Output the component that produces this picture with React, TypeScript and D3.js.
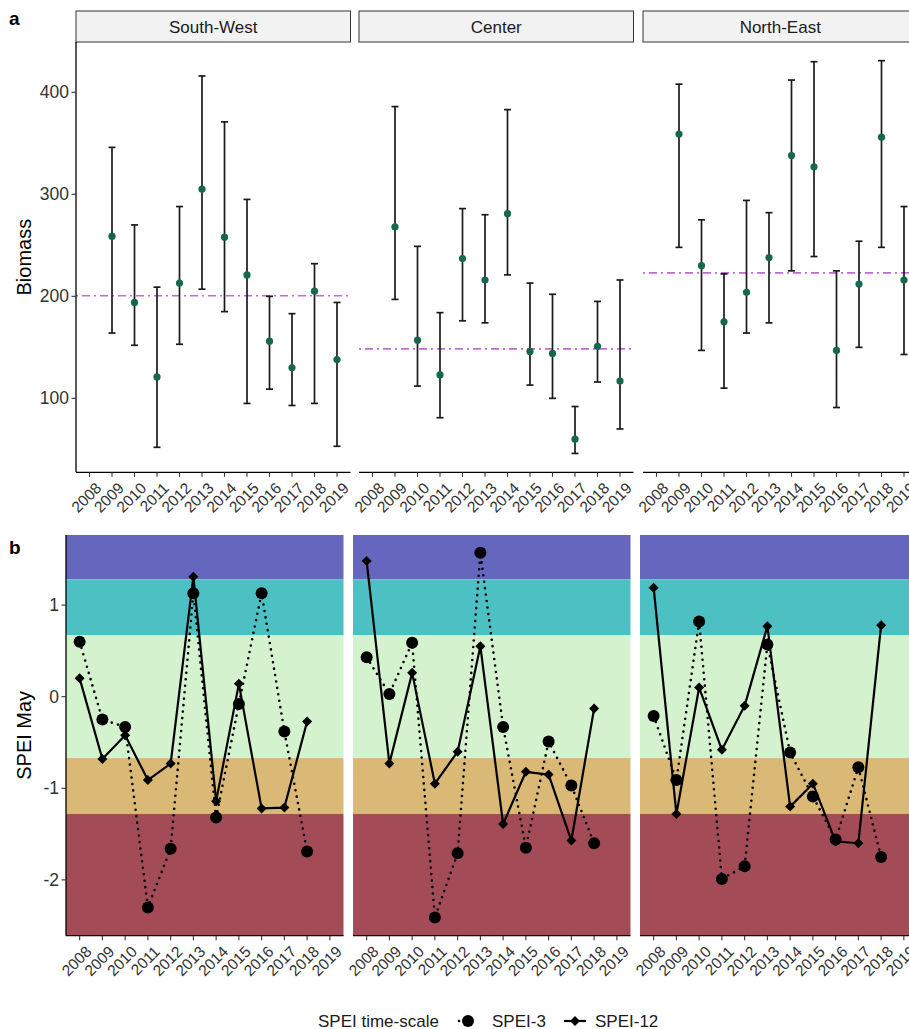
import React from "react";
import * as d3 from "d3";

const years = ["2008","2009","2010","2011","2012","2013","2014","2015","2016","2017","2018","2019"];
const regions = ["South-West", "Center", "North-East"];

// Panel a: biomass mean and error bars (null = no data)
const swBiomass = [null, 259, 194, 121, 213, 305, 258, 221, 156, 130, 205, 138];
const swLow = [null, 164, 152, 52, 153, 207, 185, 95, 109, 93, 95, 53];
const swHigh = [null, 346, 270, 209, 288, 416, 371, 295, 200, 183, 232, 194];
const ceBiomass = [null, 268, 157, 123, 237, 216, 281, 146, 144, 60, 151, 117];
const ceLow = [null, 197, 112, 81, 176, 174, 221, 113, 100, 46, 116, 70];
const ceHigh = [null, 386, 249, 184, 286, 280, 383, 213, 202, 92, 195, 216];
const neBiomass = [null, 359, 230, 175, 204, 238, 338, 327, 147, 212, 356, 216];
const neLow = [null, 248, 147, 110, 164, 174, 225, 239, 91, 150, 248, 143];
const neHigh = [null, 408, 275, 222, 294, 282, 412, 430, 225, 254, 431, 288];
const meanBiomass = [200.5, 148.5, 223];
const biomassTicks = [100, 200, 300, 400];

// Panel b: SPEI values in May
const swSpei3 = [0.60, -0.25, -0.33, -2.30, -1.66, 1.13, -1.32, -0.08, 1.13, -0.38, -1.69, null];
const swSpei12 = [0.20, -0.68, -0.42, -0.91, -0.73, 1.31, -1.14, 0.14, -1.22, -1.21, -0.27, null];
const ceSpei3 = [0.43, 0.03, 0.59, -2.41, -1.71, 1.57, -0.33, -1.65, -0.49, -0.97, -1.60, null];
const ceSpei12 = [1.48, -0.73, 0.26, -0.95, -0.60, 0.55, -1.39, -0.82, -0.85, -1.57, -0.13, null];
const neSpei3 = [-0.21, -0.91, 0.82, -1.99, -1.85, 0.57, -0.61, -1.09, -1.56, -0.77, -1.75, null];
const neSpei12 = [1.19, -1.28, 0.10, -0.58, -0.10, 0.77, -1.20, -0.95, -1.58, -1.60, 0.78, null];
const speiTicks = [-2, -1, 0, 1];

// SPEI classes (bands)
const bandLower = [1.28, 0.67, -0.67, -1.28, -Infinity];
const bandUpper = [Infinity, 1.28, 0.67, -0.67, -1.28];
const bandColors = ["#6566bd", "#4cc0c3", "#d5f2cf", "#dab977", "#a34c57"];

const biomassData = [
  { mean: swBiomass, low: swLow, high: swHigh },
  { mean: ceBiomass, low: ceLow, high: ceHigh },
  { mean: neBiomass, low: neLow, high: neHigh },
];
const speiData = [
  { s3: swSpei3, s12: swSpei12 },
  { s3: ceSpei3, s12: ceSpei12 },
  { s3: neSpei3, s12: neSpei12 },
];

const FONT = "'Liberation Sans', Arial, Helvetica, sans-serif";

const aLefts = [76, 359, 643];
const aWidth = 274.5;
const aTop = 42;
const aBottom = 472.3;
const bLefts = [66, 353, 640];
const bWidth = 277.5;
const bTop = 535;
const bBottom = 935.7;

const yA = d3.scaleLinear().domain([27.5, 449.3]).range([aBottom, aTop]);
const yB = d3.scaleLinear().domain([-2.609, 1.765]).range([bBottom, bTop]);

function XAxis({ x, y }: { x: d3.ScalePoint<string>; y: number }) {
  const r = x.range();
  return (
    <g>
      <line x1={r[0]} x2={r[1]} y1={y} y2={y} stroke="#000" strokeWidth={1.3} />
      {years.map((yr) => (
        <g key={yr}>
          <line x1={x(yr)} x2={x(yr)} y1={y} y2={y + 4.5} stroke="#333" strokeWidth={1.1} />
          <text
            transform={`translate(${(x(yr) as number) + 5},${y + 9}) rotate(-45)`}
            textAnchor="end"
            dy="0.72em"
            fontSize={15.5}
            fill="#333"
            fontFamily={FONT}
          >
            {yr}
          </text>
        </g>
      ))}
    </g>
  );
}

function PanelA() {
  return (
    <g>
      {regions.map((reg, i) => {
        const x0 = aLefts[i];
        const x = d3.scalePoint<string>().domain(years).range([x0, x0 + aWidth]).padding(0.6);
        const d = biomassData[i];
        return (
          <g key={reg}>
            <rect x={x0} y={11} width={aWidth} height={31} fill="#f2f2f2" stroke="#333" strokeWidth={1} />
            <text x={x0 + aWidth / 2} y={27} textAnchor="middle" dominantBaseline="central" fontSize={17} fill="#1a1a1a" fontFamily={FONT}>
              {reg}
            </text>
            <line
              x1={x0}
              x2={x0 + aWidth}
              y1={yA(meanBiomass[i])}
              y2={yA(meanBiomass[i])}
              stroke="#c46ad8"
              strokeWidth={1.6}
              strokeDasharray="2 4 8 4"
            />
            {years.map((yr, j) => {
              const m = d.mean[j];
              if (m == null) return null;
              const cx = x(yr) as number;
              const lo = yA(d.low[j] as number);
              const hi = yA(d.high[j] as number);
              return (
                <g key={yr}>
                  <line x1={cx} x2={cx} y1={lo} y2={hi} stroke="#1a1a1a" strokeWidth={1.7} />
                  <line x1={cx - 3.5} x2={cx + 3.5} y1={lo} y2={lo} stroke="#1a1a1a" strokeWidth={1.7} />
                  <line x1={cx - 3.5} x2={cx + 3.5} y1={hi} y2={hi} stroke="#1a1a1a" strokeWidth={1.7} />
                  <circle cx={cx} cy={yA(m)} r={3.6} fill="#15684f" />
                </g>
              );
            })}
            <XAxis x={x} y={aBottom} />
          </g>
        );
      })}
      <line x1={aLefts[0]} x2={aLefts[0]} y1={aTop} y2={aBottom} stroke="#000" strokeWidth={1.3} />
      {biomassTicks.map((t) => (
        <g key={t}>
          <line x1={aLefts[0] - 4.5} x2={aLefts[0]} y1={yA(t)} y2={yA(t)} stroke="#333" strokeWidth={1.1} />
          <text x={aLefts[0] - 7} y={yA(t)} textAnchor="end" dominantBaseline="central" fontSize={17.5} fill="#333" fontFamily={FONT}>
            {t}
          </text>
        </g>
      ))}
      <text transform={`translate(24,${(aTop + aBottom) / 2}) rotate(-90)`} textAnchor="middle" dominantBaseline="central" fontSize={20} fill="#000" fontFamily={FONT}>
        Biomass
      </text>
      <text x={9} y={25} fontSize={19} fontWeight="bold" fontFamily={FONT}>a</text>
    </g>
  );
}

function diamondPath(cx: number, cy: number, s: number) {
  return `M${cx},${cy - s}L${cx + s},${cy}L${cx},${cy + s}L${cx - s},${cy}Z`;
}

function PanelB() {
  return (
    <g>
      {regions.map((reg, i) => {
        const x0 = bLefts[i];
        const x = d3.scalePoint<string>().domain(years).range([x0, x0 + bWidth]).padding(0.6);
        const d = speiData[i];
        const pts3 = years.map((yr, j) => ({ yr, v: d.s3[j] })).filter((p) => p.v != null) as { yr: string; v: number }[];
        const pts12 = years.map((yr, j) => ({ yr, v: d.s12[j] })).filter((p) => p.v != null) as { yr: string; v: number }[];
        const line = d3
          .line<{ yr: string; v: number }>()
          .x((p) => x(p.yr) as number)
          .y((p) => yB(p.v));
        return (
          <g key={reg}>
            {bandColors.map((c, k) => {
              const top = Math.max(bTop, yB(Math.min(bandUpper[k], 10)));
              const bot = Math.min(bBottom, yB(Math.max(bandLower[k], -10)));
              return <rect key={k} x={x0} y={top} width={bWidth} height={bot - top} fill={c} />;
            })}
            <path d={line(pts12) || ""} fill="none" stroke="#000" strokeWidth={2.2} strokeLinejoin="round" />
            <path d={line(pts3) || ""} fill="none" stroke="#000" strokeWidth={2.6} strokeDasharray="0 6.5" strokeLinecap="round" />
            {pts3.map((p) => (
              <circle key={"c" + p.yr} cx={x(p.yr)} cy={yB(p.v)} r={6} fill="#000" />
            ))}
            {pts12.map((p) => (
              <path key={"d" + p.yr} d={diamondPath(x(p.yr) as number, yB(p.v), 5)} fill="#000" />
            ))}
            <XAxis x={x} y={bBottom} />
          </g>
        );
      })}
      <line x1={bLefts[0]} x2={bLefts[0]} y1={bTop} y2={bBottom} stroke="#000" strokeWidth={1.3} />
      {speiTicks.map((t) => (
        <g key={t}>
          <line x1={bLefts[0] - 4.5} x2={bLefts[0]} y1={yB(t)} y2={yB(t)} stroke="#333" strokeWidth={1.1} />
          <text x={bLefts[0] - 7} y={yB(t)} textAnchor="end" dominantBaseline="central" fontSize={17.5} fill="#333" fontFamily={FONT}>
            {t}
          </text>
        </g>
      ))}
      <text transform={`translate(24,${(bTop + bBottom) / 2}) rotate(-90)`} textAnchor="middle" dominantBaseline="central" fontSize={20} fill="#000" fontFamily={FONT}>
        SPEI May
      </text>
      <text x={9} y={554} fontSize={19} fontWeight="bold" fontFamily={FONT}>b</text>
    </g>
  );
}

function Legend() {
  const cy = 1021;
  return (
    <g fontFamily={FONT} fontSize={17} fill="#1a1a1a">
      <text x={318} y={cy} dominantBaseline="central">SPEI time-scale</text>
      <line x1={459} x2={477} y1={cy} y2={cy} stroke="#000" strokeWidth={2.6} strokeDasharray="0 6.5" strokeLinecap="round" />
      <circle cx={468} cy={cy} r={6} fill="#000" />
      <text x={492} y={cy} dominantBaseline="central">SPEI-3</text>
      <line x1={564} x2={586} y1={cy} y2={cy} stroke="#000" strokeWidth={2.2} />
      <path d={diamondPath(575, cy, 5)} fill="#000" />
      <text x={595} y={cy} dominantBaseline="central">SPEI-12</text>
    </g>
  );
}

export default function App() {
  return (
    <svg width={909} height={1029} style={{ position: "absolute", left: 0, top: 0, background: "#fff" }}>
      <rect x={0} y={0} width={909} height={1029} fill="#fff" />
      <PanelA />
      <PanelB />
      <Legend />
    </svg>
  );
}
